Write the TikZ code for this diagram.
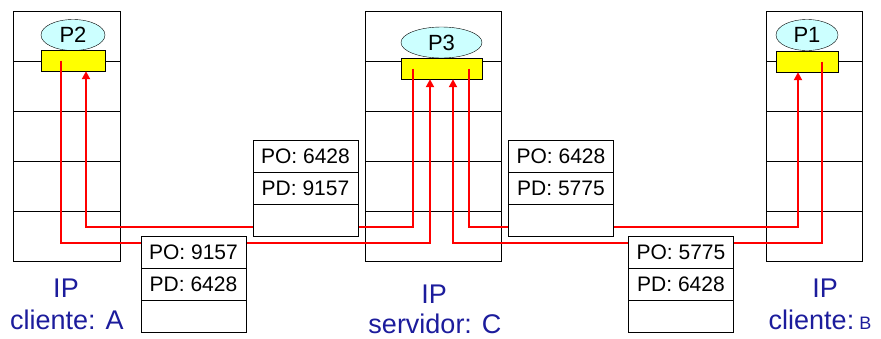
\documentclass[tikz,border=0pt]{standalone}
\usepackage{fontspec}
\setmainfont{Liberation Sans}
\usetikzlibrary{arrows.meta,positioning,shapes.geometric}
\definecolor{Sock}{HTML}{FFFF00}
\definecolor{Proc}{HTML}{CCFFFF}
\definecolor{Label}{HTML}{1C1C9C}
\definecolor{Wire}{HTML}{FF0000}

\begin{document}
\begin{tikzpicture}[x=1pt,y=-1pt,
layer/.style={draw,minimum height=50pt,inner sep=0pt,outer sep=0pt},
proc/.style={draw,ellipse,fill=Proc,inner sep=0pt,minimum height=31pt,font=\fontsize{22}{22}\selectfont},
sock/.style={draw,fill=Sock,inner sep=0pt,minimum height=21pt},
pkt/.style={draw,fill=white,minimum width=105pt,minimum height=32pt,inner sep=0pt,outer sep=0pt,font=\fontsize{21}{21}\selectfont},
lbl/.style={text=Label,anchor=base,font=\fontsize{27}{27}\selectfont},
wire/.style={draw=Wire,line width=2.2pt},
arr/.style={wire,-{Triangle[length=8pt,width=8pt]}}]
\useasboundingbox (0,0) rectangle (881,338);
% protocol stacks
\foreach \i in {0,...,4} {
  \node[layer,minimum width=107pt] (A\i) at (66.5,{36+50*\i}) {};
  \node[layer,minimum width=136pt] (C\i) at (433,{36+50*\i}) {};
  \node[layer,minimum width=96pt] (B\i) at (814,{36+50*\i}) {};
}
% processes and sockets
\node[proc,minimum width=64pt] (P2) at (73,35) {P2};
\node[proc,minimum width=81pt] (P3) at (441.5,42.5) {P3};
\node[proc,minimum width=62pt] (P1) at (807,35) {P1};
\node[sock,minimum width=64pt] (sA) at (73,60.5) {};
\node[sock,minimum width=81pt] (sC) at (441.5,68.5) {};
\node[sock,minimum width=62pt] (sB) at (807,61.5) {};
% wire ends
\coordinate (hi) at (0,227);
\coordinate (lo) at (0,243);
\coordinate (a1) at ([xshift=-12pt]sA.center);
\coordinate (a2) at ([xshift=13pt]sA.south);
\coordinate (c1) at ([xshift=-28.5pt]sC.center);
\coordinate (c2) at ([xshift=-11.5pt]sC.south);
\coordinate (c3) at ([xshift=11.5pt]sC.south);
\coordinate (c4) at ([xshift=27.5pt]sC.center);
\coordinate (b1) at ([xshift=-9pt]sB.south);
\coordinate (b2) at ([xshift=15pt]sB.center);
\draw[arr] (a1) -- (a1 |- lo) -| (c2);
\draw[arr] (c1) -- (c1 |- hi) -| (a2);
\draw[arr] (c4) -- (c4 |- hi) -| (b1);
\draw[arr] (b2) -- (b2 |- lo) -| (c3);
% segments
\node[pkt] (q1a) at (305.5,156) {PO: 6428};
\node[pkt,below=0pt of q1a] (q1b) {PD: 9157};
\node[pkt,below=0pt of q1b] (q1c) {};
\node[pkt] (q2a) at (561,156) {PO: 6428};
\node[pkt,below=0pt of q2a] (q2b) {PD: 5775};
\node[pkt,below=0pt of q2b] (q2c) {};
\node[pkt] (q3a) at (193.5,252) {PO: 9157};
\node[pkt,below=0pt of q3a] (q3b) {PD: 6428};
\node[pkt,below=0pt of q3b] (q3c) {};
\node[pkt] (q4a) at (681,252) {PO: 5775};
\node[pkt,below=0pt of q4a] (q4b) {PD: 6428};
\node[pkt,below=0pt of q4b] (q4c) {};
% host labels
\node[lbl] (ipA) at (66,297) {IP};
\node[lbl] (nmA) at (67,329) {cliente: A};
\node[lbl] (ipC) at (434,303) {IP};
\node[lbl] (nmC) at (435,333) {servidor: C};
\node[lbl] (ipB) at (825,297) {IP};
\node[lbl] (nmB) at (820,329) {cliente:{\fontsize{18}{18}\selectfont\ B}};
\end{tikzpicture}
\end{document}
